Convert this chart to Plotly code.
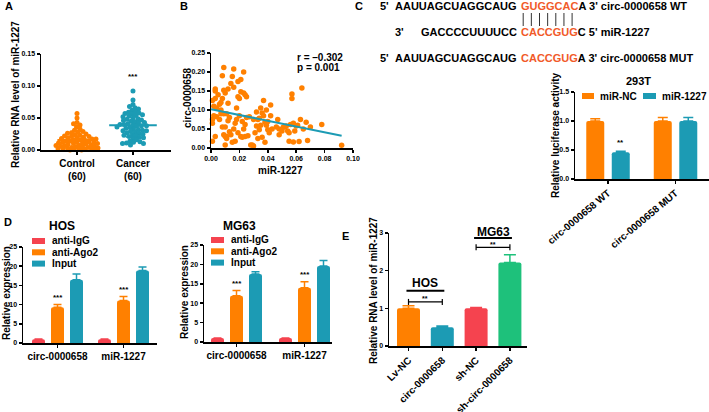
import numpy as np
import plotly.graph_objects as go

W, H = 709, 412
FONT = "Liberation Sans, Arial, Helvetica, sans-serif"
ORANGE = "#FF8000"
TEAL = "#1C9BB4"
RED = "#F5434F"
GREEN = "#1EC17B"
SEQRED = "#F15A29"

# ---------------- data ----------------
# Panel A
a_categories = ["Control<br>(60)", "Cancer<br>(60)"]
a_control = [0.057, 0.050, 0.043, 0.041, 0.039, 0.036, 0.033, 0.031, 0.029, 0.028,
             0.027, 0.026, 0.025, 0.024, 0.023, 0.022, 0.021, 0.021, 0.020, 0.019,
             0.019, 0.018, 0.017, 0.017, 0.016, 0.016, 0.015, 0.014, 0.014, 0.013,
             0.013, 0.012, 0.012, 0.011, 0.011, 0.010, 0.010, 0.009, 0.009, 0.008,
             0.008, 0.007, 0.007, 0.006, 0.006, 0.005, 0.005, 0.004, 0.004, 0.003,
             0.003, 0.003, 0.002, 0.002, 0.002, 0.001, 0.001, 0.001, 0.000, 0.000]
a_cancer = [0.092, 0.078, 0.071, 0.068, 0.066, 0.064, 0.062, 0.060, 0.059, 0.058,
            0.057, 0.056, 0.055, 0.054, 0.053, 0.052, 0.050, 0.049, 0.048, 0.047,
            0.046, 0.045, 0.044, 0.043, 0.042, 0.041, 0.040, 0.040, 0.039, 0.038,
            0.038, 0.037, 0.036, 0.035, 0.034, 0.033, 0.032, 0.031, 0.030, 0.030,
            0.029, 0.028, 0.027, 0.026, 0.025, 0.024, 0.023, 0.022, 0.021, 0.020,
            0.019, 0.018, 0.016, 0.014, 0.013, 0.012, 0.011, 0.010, 0.010, 0.008]
a_sig = "***"

# Panel B
b_mir1227 = [0.001, 0.001, 0.001, 0.002, 0.001, 0.003, 0.003, 0.003, 0.003, 0.004, 0.005, 0.002, 0.004,
             0.006, 0.007, 0.007, 0.008, 0.008, 0.009, 0.008, 0.009, 0.009, 0.010, 0.010, 0.010, 0.006, 0.007, 0.009, 0.010,
             0.011, 0.011, 0.012, 0.012, 0.013, 0.013, 0.014, 0.014, 0.015, 0.015, 0.011, 0.012,
             0.016, 0.016, 0.017, 0.017, 0.018, 0.018, 0.019, 0.019, 0.020, 0.020, 0.016, 0.019,
             0.021, 0.021, 0.021, 0.022, 0.022, 0.023, 0.023, 0.024, 0.024, 0.025, 0.025, 0.023, 0.024,
             0.026, 0.027, 0.028, 0.029, 0.030, 0.030, 0.031, 0.032, 0.032, 0.033, 0.034, 0.034, 0.035, 0.035, 0.033,
             0.036, 0.037, 0.037, 0.038, 0.038, 0.039, 0.040, 0.040, 0.041, 0.042, 0.042, 0.043, 0.036, 0.039,
             0.046, 0.047, 0.048, 0.048, 0.050, 0.051, 0.052, 0.053, 0.054, 0.055, 0.056, 0.057, 0.057, 0.058, 0.058, 0.059, 0.060, 0.055,
             0.061, 0.062, 0.063, 0.064, 0.065, 0.067, 0.068, 0.070, 0.078, 0.092]
b_circ = [0.018, 0.065, 0.075, 0.085, 0.125, 0.130, 0.150, 0.155, 0.030, 0.105, 0.140, 0.110, 0.082,
          0.115, 0.120, 0.090, 0.130, 0.190, 0.212, 0.055, 0.035, 0.152, 0.008, 0.030, 0.145, 0.075, 0.100, 0.090, 0.055,
          0.030, 0.090, 0.155, 0.118, 0.080, 0.043, 0.035, 0.170, 0.188, 0.015, 0.025, 0.072,
          0.208, 0.160, 0.065, 0.018, 0.105, 0.075, 0.135, 0.175, 0.130, 0.085, 0.050, 0.040,
          0.180, 0.148, 0.030, 0.070, 0.028, 0.200, 0.145, 0.140, 0.062, 0.080, 0.135, 0.050, 0.030,
          0.032, 0.082, 0.008, 0.008, 0.005, 0.075, 0.040, 0.095, 0.058, 0.025, 0.078, 0.048, 0.105, 0.060, 0.075,
          0.028, 0.125, 0.085, 0.015, 0.068, 0.100, 0.048, 0.070, 0.040, 0.113, 0.085, 0.050, 0.092, 0.060,
          0.055, 0.075, 0.050, 0.035, 0.045, 0.055, 0.055, 0.058, 0.045, 0.018, 0.062, 0.130, 0.142, 0.065, 0.016, 0.045, 0.058, 0.040,
          0.060, 0.017, 0.075, 0.158, 0.050, 0.068, 0.020, 0.055, 0.062, 0.007]
b_fit_intercept = 0.102
b_fit_slope = -0.76
b_fit_xmax = 0.092
b_stats = ["r = \u20130.302", "p = 0.001"]

# Panel C
c_seq_wt = ["5'", "AAUUAGCUAGGCAUG", "GUGGCAC", "A 3' circ-0000658 WT"]
c_seq_mir = ["3'", "GACCCCUUUUCC", "CACCGUG", "C 5' miR-1227"]
c_seq_mut = ["5'", "AAUUAGCUAGGCAUG", "CACCGUG", "A 3' circ-0000658 MUT"]
c_title = "293T"
c_groups = ["circ-0000658 WT", "circ-0000658 MUT"]
c_series = ["miR-NC", "miR-1227"]
c_nc = [1.00, 1.00]
c_nc_err = [0.04, 0.06]
c_mir = [0.46, 1.00]
c_mir_err = [0.02, 0.06]
c_sig = ["**", ""]

# Panel D
d_groups = ["circ-0000658", "miR-1227"]
d_series = ["anti-IgG", "anti-Ago2", "Input"]
d_hos_igg = [1.0, 1.0]
d_hos_igg_err = [0.05, 0.05]
d_hos_ago2 = [9.3, 11.1]
d_hos_ago2_err = [0.7, 1.0]
d_hos_input = [16.5, 18.9]
d_hos_input_err = [1.5, 0.9]
d_mg_igg = [1.0, 1.0]
d_mg_igg_err = [0.05, 0.05]
d_mg_ago2 = [11.9, 14.0]
d_mg_ago2_err = [1.4, 1.5]
d_mg_input = [17.5, 19.6]
d_mg_input_err = [0.6, 1.4]
d_sig = "***"

# Panel E
e_groups = ["Lv-NC", "circ-0000658", "sh-NC", "sh-circ-0000658"]
e_vals = [1.00, 0.50, 1.00, 2.22]
e_err = [0.07, 0.03, 0.02, 0.20]
e_sig = "**"

# ---------------- helpers ----------------
def fx(p):
    return p / W

def fy(p):
    return 1 - p / H

def bfont(size, color="black"):
    return dict(family=FONT, size=size, color=color, weight="bold")

fig = go.Figure()

axis_common = dict(showline=True, linecolor="black", linewidth=1.5, ticks="outside",
                   ticklen=3, tickwidth=1.5, tickcolor="black", showgrid=False,
                   zeroline=False, tickfont=bfont(7), fixedrange=True, automargin=False)

def set_axes(n, xpx, ypx, xrange, yrange, xkw=None, ykw=None):
    xn = "xaxis" if n == 1 else f"xaxis{n}"
    yn = "yaxis" if n == 1 else f"yaxis{n}"
    xid = "x" if n == 1 else f"x{n}"
    yid = "y" if n == 1 else f"y{n}"
    xa = dict(axis_common)
    xa.update(domain=[fx(xpx[0]), fx(xpx[1])], range=xrange, anchor=yid)
    xa.update(xkw or {})
    ya = dict(axis_common)
    ya.update(domain=[fy(ypx[1]), fy(ypx[0])], range=yrange, anchor=xid)
    ya.update(ykw or {})
    fig.layout[xn] = xa
    fig.layout[yn] = ya

annotations = []
shapes = []

def ann(text, x, y, size=10, color="black", xanchor="center", yanchor="middle",
        angle=0, xref="paper", yref="paper"):
    annotations.append(dict(text=text, x=fx(x) if xref == "paper" else x,
                            y=fy(y) if yref == "paper" else y,
                            xref=xref, yref=yref, showarrow=False,
                            font=bfont(size, color), xanchor=xanchor,
                            yanchor=yanchor, textangle=angle))

def rect_swatch(x0, x1, yc, color, h=6):
    shapes.append(dict(type="rect", xref="paper", yref="paper",
                       x0=fx(x0), x1=fx(x1), y0=fy(yc + h / 2), y1=fy(yc - h / 2),
                       fillcolor=color, line=dict(width=0)))

def swarm_offsets(values, px_per_unit, collide=3.6, max_off=21.0, step=0.5):
    vals = np.asarray(values, float)
    order = np.argsort(-vals, kind="stable")
    placed = []
    offs = np.zeros(len(vals))
    for n_i, i in enumerate(order):
        y = vals[i] * px_per_unit
        sign = 1 if n_i % 2 == 0 else -1
        cands = [0.0]
        k = 1
        while k * step <= max_off:
            cands += [sign * k * step, -sign * k * step]
            k += 1
        chosen = None
        best, best_d = 0.0, -1
        for c in cands:
            d = min([((c - px) ** 2 + (y - py) ** 2) ** 0.5 for px, py in placed] or [99])
            if d >= collide:
                chosen = c
                break
            if d > best_d:
                best, best_d = c, d
        if chosen is None:
            chosen = best
        offs[i] = chosen
        placed.append((chosen, y))
    return offs

# ---------------- Panel A ----------------
A_PX_X = 56.0
A_PX_Y = 96.0 / 0.15
set_axes(1, (41, 171), (54, 150), [-0.643, 1.679], [0, 0.15],
         xkw=dict(tickvals=[0, 1], ticktext=a_categories, tickfont=bfont(10)),
         ykw=dict(tickvals=[0, 0.05, 0.10, 0.15], ticktext=["0.00", "0.05", "0.10", "0.15"]))
for gi, (vals, col, half) in enumerate([(a_control, ORANGE, 14), (a_cancer, TEAL, 17)]):
    offs = swarm_offsets(vals, A_PX_Y)
    fig.add_trace(go.Scatter(x=gi + offs / A_PX_X, y=vals, mode="markers",
                             marker=dict(size=5, color=col), xaxis="x", yaxis="y",
                             cliponaxis=False, showlegend=False, hoverinfo="skip"))
    m, sd = float(np.mean(vals)), float(np.std(vals, ddof=1))
    fig.add_trace(go.Scatter(x=[gi], y=[m], mode="markers",
                             marker=dict(symbol="line-ew-open", size=2 * half, color=col,
                                         line=dict(width=2, color=col)),
                             error_y=dict(type="data", array=[sd], color=col,
                                          thickness=1.5, width=7),
                             xaxis="x", yaxis="y", cliponaxis=False, showlegend=False))
ann(a_sig, 1, max(a_cancer) + 0.012, size=8, xref="x", yref="y", yanchor="bottom")
ann("Relative RNA level of miR-1227", 15, 95, size=10, angle=-90)
ann("A", 9, 6, size=11)

# ---------------- Panel B ----------------
set_axes(2, (211, 353), (53, 148), [0, 0.10], [0, 0.25],
         xkw=dict(tickvals=[0, 0.02, 0.04, 0.06, 0.08, 0.10],
                  ticktext=["0.00", "0.02", "0.04", "0.06", "0.08", "0.10"]),
         ykw=dict(tickvals=[0, 0.05, 0.10, 0.15, 0.20, 0.25],
                  ticktext=["0.00", "0.05", "0.10", "0.15", "0.20", "0.25"]))
fig.add_trace(go.Scatter(x=b_mir1227, y=b_circ, mode="markers",
                         marker=dict(size=5.5, color=ORANGE), xaxis="x2", yaxis="y2",
                         cliponaxis=False, showlegend=False))
fit_x = [0.0, b_fit_xmax]
fig.add_trace(go.Scatter(x=fit_x, y=[b_fit_intercept + b_fit_slope * v for v in fit_x],
                         mode="lines", line=dict(color=TEAL, width=2),
                         xaxis="x2", yaxis="y2", showlegend=False))
ann(b_stats[0], 295, 58, size=10, xanchor="left")
ann(b_stats[1], 295, 67, size=10, xanchor="left")
ann("circ-0000658", 187, 98, size=10, angle=-90)
ann("miR-1227", 280, 170, size=10)
ann("B", 184, 6, size=11)

# ---------------- Panel C: sequences ----------------
RED_X = 519
rows = [(c_seq_wt, 6, 378), (c_seq_mir, 32, 393), (c_seq_mut, 58, 378)]
for seq, yc, x5 in rows:
    ann(seq[0], x5, yc, size=11, xanchor="left")
    ann(seq[1], RED_X, yc, size=11, xanchor="right")
    ann(f"<span style='color:{SEQRED}'>{seq[2]}</span>{seq[3]}", RED_X, yc, size=11,
        xanchor="left")
for k in range(len(c_seq_wt[2])):
    xb = RED_X + 4.2 + k * 8.15
    shapes.append(dict(type="line", xref="paper", yref="paper", x0=fx(xb), x1=fx(xb),
                       y0=fy(13), y1=fy(26), line=dict(color="#333333", width=1)))
ann("C", 359, 6, size=11)

# ---------------- Panel C: bars ----------------
C_PX = 67.5
cw = 18 / C_PX
coff = 12.75 / C_PX
set_axes(3, (575, 709), (92, 179), [-0.489, 1.496], [0, 1.5],
         xkw=dict(tickvals=[0, 1], ticktext=c_groups, tickfont=bfont(10), tickangle=-40),
         ykw=dict(tickvals=[0, 0.5, 1.0, 1.5], ticktext=["0.0", "0.5", "1.0", "1.5"]))
for vals, errs, col, sgn, name in [(c_nc, c_nc_err, ORANGE, -1, c_series[0]),
                                    (c_mir, c_mir_err, TEAL, 1, c_series[1])]:
    fig.add_trace(go.Bar(x=[0, 1], y=vals, width=cw, offset=sgn * coff - cw / 2,
                         marker=dict(color=col, line=dict(width=0), cornerradius=2),
                         error_y=dict(type="data", array=errs, arrayminus=[0, 0],
                                      symmetric=False, color=col, thickness=1.5, width=5),
                         xaxis="x3", yaxis="y3", showlegend=False, name=name))
for i, s in enumerate(c_sig):
    if s:
        ann(s, i + coff, c_mir[i] + c_mir_err[i] + 0.03, size=8, xref="x3", yref="y3",
            yanchor="bottom")
ann(c_title, 638, 81, size=11)
ann("Relative luciferase activity", 555, 135, size=10, angle=-90)
rect_swatch(582, 594, 96, ORANGE)
ann(c_series[0], 598, 96, size=10, xanchor="left")
rect_swatch(643, 656, 96, TEAL)
ann(c_series[1], 660, 96, size=10, xanchor="left")

# ---------------- Panel D ----------------
def d_panel(n, xpx, ypx, pitch, x0px, igg, igge, ago, agoe, inp, inpe, legx, legy0):
    left = (xpx[0] - x0px) / pitch
    right = (xpx[1] - x0px) / pitch
    bw = 13 / pitch
    off = 19 / pitch
    set_axes(n, xpx, ypx, [left, right], [0, 25],
             xkw=dict(tickvals=[0, 1], ticktext=d_groups, tickfont=bfont(10)),
             ykw=dict(tickvals=[0, 5, 10, 15, 20, 25]))
    xid, yid = f"x{n}", f"y{n}"
    for k, (vals, errs, col) in enumerate([(igg, igge, RED), (ago, agoe, ORANGE),
                                           (inp, inpe, TEAL)]):
        fig.add_trace(go.Bar(x=[0, 1], y=vals, width=bw, offset=(k - 1) * off - bw / 2,
                             marker=dict(color=col, line=dict(width=0), cornerradius=2),
                             error_y=dict(type="data", array=errs, arrayminus=[0, 0],
                                          symmetric=False, color=col, thickness=1.5,
                                          width=4),
                             xaxis=xid, yaxis=yid, showlegend=False, name=d_series[k]))
    for i in range(2):
        ann(d_sig, i, ago[i] + agoe[i] + 0.2, size=8, xref=xid, yref=yid, yanchor="bottom")
    for k, col in enumerate([RED, ORANGE, TEAL]):
        yc = legy0 + k * 11.3
        rect_swatch(legx, legx + 13, yc, col)
        ann(d_series[k], legx + 18, yc, size=10, xanchor="left")

d_panel(4, (23, 157), (247, 343), 66.0, 57.5, d_hos_igg, d_hos_igg_err, d_hos_ago2,
        d_hos_ago2_err, d_hos_input, d_hos_input_err, 32, 241)
d_panel(5, (204, 332), (245, 342), 68.0, 236.5, d_mg_igg, d_mg_igg_err, d_mg_ago2,
        d_mg_ago2_err, d_mg_input, d_mg_input_err, 211, 240)
ann("HOS", 62, 226, size=12)
ann("MG63", 240, 226, size=12)
ann("Relative expression", 6, 293, size=10, angle=-90)
ann("Relative expression", 184, 292, size=10, angle=-90)
ann("D", 8, 222, size=11)

# ---------------- Panel E ----------------
E_PX = 33.8
E_TOP, E_BOT, E_MAX = 233, 346, 3.0
E_COLORS = [ORANGE, TEAL, RED, GREEN]

def e_ypx(v):
    return E_BOT - v * (E_BOT - E_TOP) / E_MAX

set_axes(6, (389, 527), (E_TOP, E_BOT), [(389 - 408.5) / E_PX, (527 - 408.5) / E_PX],
         [0, E_MAX],
         xkw=dict(tickvals=[0, 1, 2, 3], ticktext=e_groups, tickfont=bfont(10), tickangle=-45),
         ykw=dict(tickvals=[0, 1, 2, 3]))
for i, col in enumerate(E_COLORS):
    fig.add_trace(go.Bar(x=[i], y=[e_vals[i]], width=23 / E_PX,
                         marker=dict(color=col, line=dict(width=0), cornerradius=2),
                         error_y=dict(type="data", array=[e_err[i]], arrayminus=[0],
                                      symmetric=False, color=col, thickness=1.5, width=6),
                         xaxis="x6", yaxis="y6", showlegend=False, name=e_groups[i]))
for (a, b), ybr, yul, ytitle, title in [((0, 1), 1.17, 1.47, 1.67, "HOS"),
                                        ((2, 3), 2.62, 2.87, 3.03, "MG63")]:
    fig.add_trace(go.Scatter(x=[a, a, None, a, b, None, b, b],
                             y=[ybr - 0.08, ybr + 0.08, None, ybr, ybr, None, ybr - 0.08, ybr + 0.08],
                             mode="lines", line=dict(color="black", width=1.2),
                             xaxis="x6", yaxis="y6", showlegend=False, cliponaxis=False))
    fig.add_trace(go.Scatter(x=[a - 0.06, b + 0.06], y=[yul, yul], mode="lines",
                             line=dict(color="black", width=2),
                             xaxis="x6", yaxis="y6", showlegend=False, cliponaxis=False))
    ann(e_sig, (a + b) / 2, e_ypx(ybr) - 3.2, size=7, xref="x6")
    ann(title, (a + b) / 2, e_ypx(ytitle), size=12, xref="x6")
ann("Relative RNA level of miR-1227", 373, 290, size=10, angle=-90)
ann("E", 345, 236, size=11)

fig.update_layout(template="none", width=W, height=H,
                  margin=dict(l=0, r=0, t=0, b=0, autoexpand=False),
                  paper_bgcolor="white", plot_bgcolor="white", barmode="overlay",
                  font=bfont(10), showlegend=False, annotations=annotations, shapes=shapes)
fig.write_html("out.html", config=dict(displayModeBar=False, staticPlot=True),
               post_script="document.body.style.margin='0';document.body.style.padding='0';"
                           "document.documentElement.style.overflow='hidden';")
